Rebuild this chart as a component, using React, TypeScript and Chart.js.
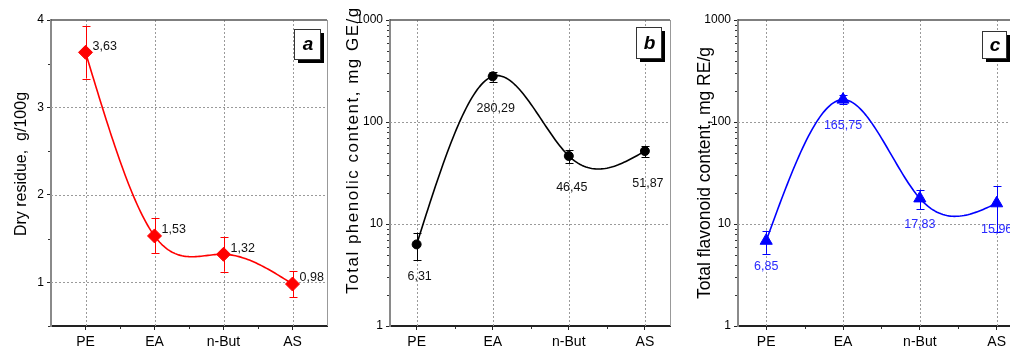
import React, { useEffect, useRef } from 'react';
import { Chart, registerables } from 'chart.js';
Chart.register(...registerables);

Chart.defaults.font.family = "'Liberation Sans', Arial, sans-serif";

const categories = ['PE', 'EA', 'n-But', 'AS'];
const dryResidue = [3.63, 1.53, 1.32, 0.98];
const dryResidueErr = [0.3, 0.2, 0.2, 0.15];
const phenolic = [6.31, 280.29, 46.45, 51.87];
const phenolicErr = [1.9, 32, 7, 6.5];
const flavonoid = [6.85, 165.75, 17.83, 15.96];
const flavonoidErr = [1.75, 17, 3.9, 7.6];
const linearTicks = [1, 2, 3, 4];
const linearMinorTicks = [0.5, 1.5, 2.5, 3.5];
const logTicks = [1, 10, 100, 1000];

const fmt = (v: number) => v.toFixed(2).replace('.', ',');

type Panel = {
  left: number; width: number; yAxisWidth: number; padRight: number;
  yType: 'linear' | 'logarithmic'; yMin: number; yMax: number; xMin: number; xMax: number;
  values: number[]; errors: number[]; color: string; labelColor: string;
  pointStyle: any; radius: number; labelMode: 'right' | 'below'; dx: number; dy: number;
  title: string; titleX: number; titleY: number; titleSize: number; titleSpacing: number; letter: string;
  box: { x: number; y: number; w: number; h: number };
};

const panels: Panel[] = [
  {
    left: 0, width: 340, yAxisWidth: 51, padRight: 13,
    yType: 'linear', yMin: 0.5, yMax: 4, xMin: -0.5, xMax: 3.5,
    values: dryResidue, errors: dryResidueErr, color: '#ff0000', labelColor: '#111',
    pointStyle: 'rectRot', radius: 7, labelMode: 'right', dx: 7, dy: -6,
    title: 'Dry residue,  g/100g', titleX: 22, titleY: 164, titleSize: 16, titleSpacing: 0, letter: 'a',
    box: { x: 294, y: 29, w: 26, h: 30 },
  },
  {
    left: 340, width: 340, yAxisWidth: 50, padRight: 10,
    yType: 'logarithmic', yMin: 1, yMax: 1000, xMin: -0.35, xMax: 3.33,
    values: phenolic, errors: phenolicErr, color: '#000000', labelColor: '#111',
    pointStyle: 'circle', radius: 4.5, labelMode: 'below', dx: 3, dy: 32,
    title: 'Total phenolic content, mg GE/g', titleX: 13, titleY: 150, titleSize: 17, titleSpacing: 1.5, letter: 'b',
    box: { x: 296, y: 27, w: 25, h: 31 },
  },
  {
    left: 680, width: 350, yAxisWidth: 58, padRight: 8,
    yType: 'logarithmic', yMin: 1, yMax: 1000, xMin: -0.367, xMax: 3.33,
    values: flavonoid, errors: flavonoidErr, color: '#0000ff', labelColor: '#2a2aff',
    pointStyle: 'triangle', radius: 7, labelMode: 'below', dx: 0, dy: 26,
    title: 'Total flavonoid content, mg RE/g', titleX: 25, titleY: 173, titleSize: 17.5, titleSpacing: 0, letter: 'c',
    box: { x: 302, y: 31, w: 24, h: 27 },
  },
];

// natural cubic spline second derivatives
function splineM(xs: number[], ys: number[]) {
  const n = xs.length;
  const M = new Array(n).fill(0);
  if (n < 3) return M;
  const a: number[] = [], b: number[] = [], c: number[] = [], d: number[] = [];
  for (let i = 1; i < n - 1; i++) {
    const h0 = xs[i] - xs[i - 1], h1 = xs[i + 1] - xs[i];
    a.push(h0); b.push(2 * (h0 + h1)); c.push(h1);
    d.push(6 * ((ys[i + 1] - ys[i]) / h1 - (ys[i] - ys[i - 1]) / h0));
  }
  const m = b.length;
  for (let i = 1; i < m; i++) {
    const w = a[i] / b[i - 1];
    b[i] -= w * c[i - 1];
    d[i] -= w * d[i - 1];
  }
  const sol = new Array(m).fill(0);
  sol[m - 1] = d[m - 1] / b[m - 1];
  for (let i = m - 2; i >= 0; i--) sol[i] = (d[i] - c[i] * sol[i + 1]) / b[i];
  for (let i = 0; i < m; i++) M[i + 1] = sol[i];
  return M;
}

function makeChart(canvas: HTMLCanvasElement, p: Panel) {
  const majorY = p.yType === 'linear' ? linearTicks : logTicks;
  const plugin = {
    id: 'decor',
    beforeDatasetsDraw(chart: any) {
      const { ctx, chartArea: a } = chart;
      const xs = chart.scales.x, ys = chart.scales.y;
      ctx.save();
      ctx.strokeStyle = '#9a9a9a';
      ctx.lineWidth = 1;
      ctx.setLineDash([2, 2]);
      categories.forEach((_, i) => {
        const x = Math.round(xs.getPixelForValue(i)) + 0.5;
        ctx.beginPath(); ctx.moveTo(x, a.top); ctx.lineTo(x, a.bottom); ctx.stroke();
      });
      majorY.forEach((v) => {
        const y = Math.round(ys.getPixelForValue(v)) + 0.5;
        if (y <= a.top + 1 || y >= a.bottom - 1) return;
        ctx.beginPath(); ctx.moveTo(a.left, y); ctx.lineTo(a.right, y); ctx.stroke();
      });
      ctx.setLineDash([]);
      // spline line through data points (pixel space, natural cubic spline)
      const px = p.values.map((_, i) => xs.getPixelForValue(i));
      const py = p.values.map((v) => ys.getPixelForValue(v));
      const M = splineM(px, py);
      ctx.strokeStyle = p.color;
      ctx.lineWidth = 1.6;
      ctx.lineJoin = 'round';
      ctx.beginPath();
      ctx.moveTo(px[0], py[0]);
      for (let i = 0; i < px.length - 1; i++) {
        const h = px[i + 1] - px[i];
        const steps = 40;
        for (let s = 1; s <= steps; s++) {
          const t = s / steps, A = 1 - t, B = t;
          const y = A * py[i] + B * py[i + 1] + ((A * A * A - A) * M[i] + (B * B * B - B) * M[i + 1]) * h * h / 6;
          ctx.lineTo(px[i] + t * h, y);
        }
      }
      ctx.stroke();
      // error bars
      ctx.strokeStyle = p.color;
      ctx.lineWidth = 1;
      p.values.forEach((v, i) => {
        const x = Math.round(xs.getPixelForValue(i)) + 0.5;
        const yt = ys.getPixelForValue(v + p.errors[i]);
        const yb = ys.getPixelForValue(v - p.errors[i]);
        ctx.beginPath();
        ctx.moveTo(x, yt); ctx.lineTo(x, yb);
        ctx.moveTo(x - 4, Math.round(yt) + 0.5); ctx.lineTo(x + 4, Math.round(yt) + 0.5);
        ctx.moveTo(x - 4, Math.round(yb) + 0.5); ctx.lineTo(x + 4, Math.round(yb) + 0.5);
        ctx.stroke();
      });
      ctx.restore();
    },
    afterDatasetsDraw(chart: any) {
      const { ctx } = chart;
      const meta = chart.getDatasetMeta(0);
      ctx.save();
      ctx.fillStyle = p.labelColor;
      ctx.font = "12.5px 'Liberation Sans', Arial, sans-serif";
      ctx.textBaseline = 'middle';
      ctx.textAlign = p.labelMode === 'right' ? 'left' : 'center';
      p.values.forEach((v, i) => {
        const pt = meta.data[i];
        ctx.fillText(fmt(v), pt.x + p.dx, pt.y + p.dy);
      });
      ctx.restore();
    },
    afterDraw(chart: any) {
      const { ctx, chartArea: a } = chart;
      const xs = chart.scales.x, ys = chart.scales.y;
      ctx.save();
      // frame top / right
      ctx.strokeStyle = '#555';
      ctx.lineWidth = 1.5;
      ctx.beginPath(); ctx.moveTo(a.left, a.top); ctx.lineTo(a.right, a.top); ctx.stroke();
      ctx.strokeStyle = '#999';
      ctx.lineWidth = 1;
      ctx.beginPath(); ctx.moveTo(a.right + 0.5, a.top); ctx.lineTo(a.right + 0.5, a.bottom); ctx.stroke();
      // minor ticks
      ctx.strokeStyle = '#333';
      ctx.lineWidth = 1;
      const minorY: number[] = [];
      if (p.yType === 'linear') minorY.push(...linearMinorTicks);
      else {
        for (let d = 1; d < 1000; d *= 10) for (let m = 2; m <= 9; m++) minorY.push(d * m);
      }
      minorY.forEach((v) => {
        const y = Math.round(ys.getPixelForValue(v)) + 0.5;
        ctx.beginPath(); ctx.moveTo(a.left - 1, y); ctx.lineTo(a.left - 3, y); ctx.stroke();
      });
      [0.5, 1.5, 2.5].forEach((v) => {
        const x = Math.round(xs.getPixelForValue(v)) + 0.5;
        ctx.beginPath(); ctx.moveTo(x, a.bottom + 1); ctx.lineTo(x, a.bottom + 3); ctx.stroke();
      });
      // y title
      ctx.save();
      ctx.translate(p.titleX, p.titleY);
      ctx.rotate(-Math.PI / 2);
      ctx.fillStyle = '#000';
      ctx.font = `${p.titleSize}px 'Liberation Sans', Arial, sans-serif`;
      if (p.titleSpacing) (ctx as any).letterSpacing = `${p.titleSpacing}px`;
      ctx.textAlign = 'center';
      ctx.textBaseline = 'middle';
      ctx.fillText(p.title, 0, 0);
      (ctx as any).letterSpacing = '0px';
      ctx.restore();
      // letter box
      const b = p.box;
      ctx.fillStyle = '#000';
      ctx.fillRect(b.x + 4, b.y + 4, b.w, b.h);
      ctx.fillStyle = '#fff';
      ctx.fillRect(b.x, b.y, b.w, b.h);
      ctx.strokeStyle = '#333';
      ctx.strokeRect(b.x + 0.5, b.y + 0.5, b.w, b.h);
      ctx.fillStyle = '#000';
      ctx.font = "italic bold 19px 'Liberation Sans', Arial, sans-serif";
      ctx.textAlign = 'center';
      ctx.textBaseline = 'middle';
      ctx.fillText(p.letter, b.x + b.w / 2 + 1, b.y + b.h / 2 + 1);
      ctx.restore();
    },
  };

  return new Chart(canvas, {
    type: 'line',
    data: {
      datasets: [{
        data: p.values.map((v, i) => ({ x: i, y: v })),
        borderColor: p.color,
        backgroundColor: p.color,
        showLine: false,
        pointStyle: p.pointStyle,
        pointRadius: p.radius,
        pointBackgroundColor: p.color,
        pointBorderColor: p.color,
        pointBorderWidth: 1,
        clip: false as any,
      }],
    },
    options: {
      animation: false,
      responsive: false,
      devicePixelRatio: 1,
      layout: { padding: { left: 0, right: p.padRight, top: 20, bottom: 0 } },
      plugins: { legend: { display: false }, tooltip: { enabled: false } },
      scales: {
        x: {
          type: 'linear', min: p.xMin, max: p.xMax,
          afterBuildTicks: (s: any) => { s.ticks = categories.map((_, i) => ({ value: i })); },
          afterFit: (s: any) => { s.height = 21; },
          ticks: {
            callback: (v: any) => categories[Math.round(Number(v))],
            font: { size: 14 }, color: '#000', padding: 4, autoSkip: false, maxRotation: 0,
          },
          grid: { display: true, drawOnChartArea: false, drawTicks: true, tickLength: 4, color: '#222', lineWidth: 1 },
          border: { display: true, color: '#222', width: 2 },
        },
        y: {
          type: p.yType, min: p.yMin, max: p.yMax,
          afterBuildTicks: (s: any) => { s.ticks = majorY.map((v) => ({ value: v })); },
          afterFit: (s: any) => { s.width = p.yAxisWidth; },
          ticks: {
            callback: (v: any) => String(v),
            font: { size: 12 }, color: '#000', padding: 3, autoSkip: false,
          },
          grid: { display: true, drawOnChartArea: false, drawTicks: true, tickLength: 4, color: '#222', lineWidth: 1 },
          border: { display: true, color: '#8a8a8a', width: 2 },
        },
      },
    } as any,
    plugins: [plugin],
  });
}

function Panel({ p }: { p: Panel }) {
  const ref = useRef<HTMLCanvasElement | null>(null);
  useEffect(() => {
    if (!ref.current) return;
    const c = makeChart(ref.current, p);
    return () => c.destroy();
  }, [p]);
  return (
    <canvas
      ref={ref}
      width={p.width}
      height={347}
      style={{ position: 'absolute', left: p.left, top: 0, width: p.width, height: 347, display: 'block' }}
    />
  );
}

export default function App() {
  return (
    <div style={{ position: 'fixed', left: 0, top: 0, width: 1010, height: 347, overflow: 'hidden', background: '#fff' }}>
      {panels.map((p, i) => <Panel key={i} p={p} />)}
    </div>
  );
}
